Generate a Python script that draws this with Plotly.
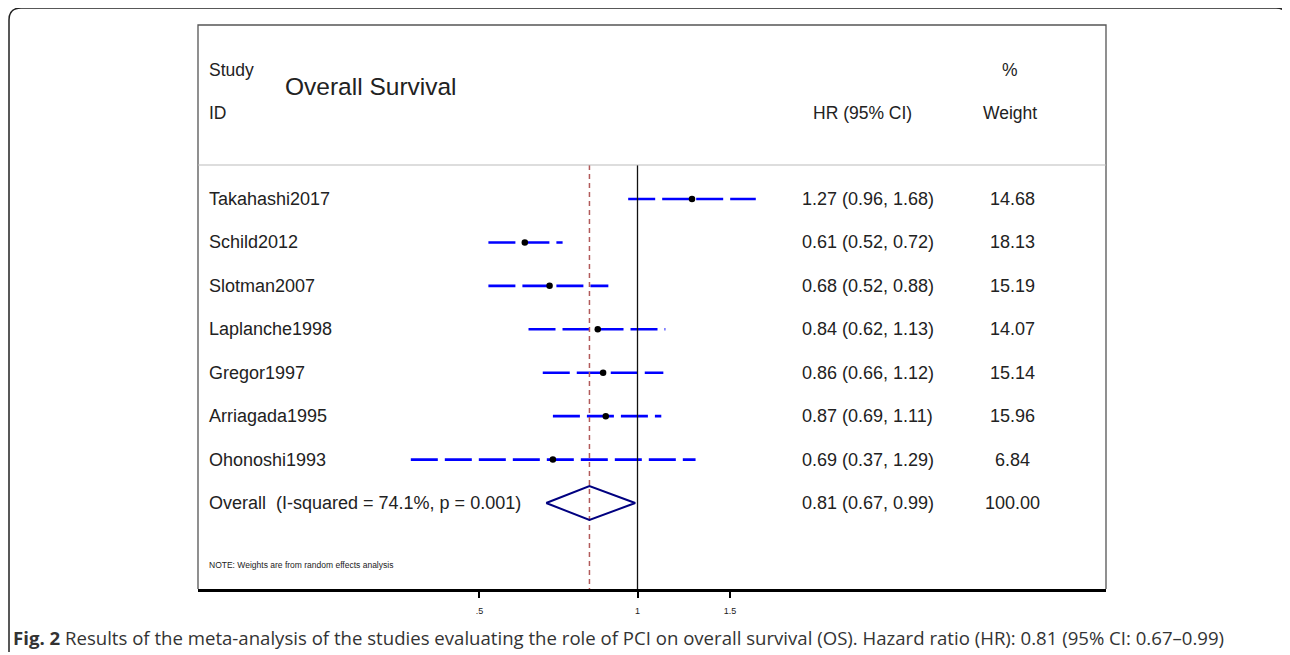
import plotly.graph_objects as go

# ---- data ----
studies = ["Takahashi2017", "Schild2012", "Slotman2007", "Laplanche1998",
           "Gregor1997", "Arriagada1995", "Ohonoshi1993"]
hr = [1.27, 0.61, 0.68, 0.84, 0.86, 0.87, 0.69]
ci_low = [0.96, 0.52, 0.52, 0.62, 0.66, 0.69, 0.37]
ci_high = [1.68, 0.72, 0.88, 1.13, 1.12, 1.11, 1.29]
weights = [14.68, 18.13, 15.19, 14.07, 15.14, 15.96, 6.84]
overall_label = "Overall\u00a0\u00a0(I-squared = 74.1%, p = 0.001)"
overall_hr, overall_low, overall_high, overall_weight = 0.81, 0.67, 0.99, 100.00
tick_vals = [0.5, 1, 1.5]
tick_text = [".5", "1", "1.5"]

# ---- layout geometry (screen pixels; the page body has an 8px margin) ----
OFF = 8
W, H = 1290 - OFF, 655 - OFF
L, R, T, B = 198, 1106, 25, 589
PW, PH = R - L, B - T
ROW0, PITCH = 199, 43.43


def px_x(px):
    return (px - L) / PW


def px_y(py):
    return (B - py) / PH


def row_of(py):
    return (py - ROW0) / PITCH


y_top, y_bot = row_of(T), row_of(B)
y_head = row_of(165)
n = len(studies)
ov_row = n

fig = go.Figure()

# CI lines
for i in range(n):
    fig.add_trace(go.Scatter(
        x=[ci_low[i], ci_high[i]], y=[i, i], mode="lines",
        line=dict(color="#0000FF", width=2.6, dash="27px,7px"),
        hoverinfo="skip", showlegend=False))

# null line
fig.add_trace(go.Scatter(x=[1, 1], y=[y_head, y_bot], mode="lines",
                         line=dict(color="#111111", width=1.3),
                         hoverinfo="skip", showlegend=False))
# overall dashed line
fig.add_trace(go.Scatter(x=[overall_hr, overall_hr], y=[y_head, y_bot], mode="lines",
                         line=dict(color="#B25A5A", width=1.5, dash="5px,4px"),
                         hoverinfo="skip", showlegend=False))

# point estimates
fig.add_trace(go.Scatter(x=hr, y=list(range(n)), mode="markers",
                         marker=dict(color="black", size=6.5, symbol="circle"),
                         hoverinfo="skip", showlegend=False))

# overall diamond
hh = 17 / PITCH
fig.add_trace(go.Scatter(
    x=[overall_low, overall_hr, overall_high, overall_hr, overall_low],
    y=[ov_row, ov_row - hh, ov_row, ov_row + hh, ov_row],
    mode="lines", line=dict(color="#000080", width=2),
    hoverinfo="skip", showlegend=False))

ann = []
font = dict(family="Liberation Sans, Arial, sans-serif", size=18, color="#222222")


def text(x_px, row, s, anchor="left", size=18):
    f = dict(font)
    f["size"] = size
    ann.append(dict(x=px_x(x_px), xref="paper", y=row, yref="y", text=s,
                    showarrow=False, xanchor=anchor, yanchor="middle", font=f))


# headers
text(207, row_of(70), "Study", size=17.5)
text(207, row_of(113), "ID", size=17.5)
text(283, row_of(86), "Overall Survival", size=24.5)
text(862, row_of(113), "HR (95% CI)", "center", 17.5)
text(1010, row_of(70), "%", "center", 17.5)
text(1010, row_of(113), "Weight", "center", 17.5)

for i in range(n):
    text(207, i, studies[i])
    text(800, i, f"{hr[i]:.2f} ({ci_low[i]:.2f}, {ci_high[i]:.2f})")
    text(1012, i, f"{weights[i]:.2f}", "center")

text(207, ov_row, overall_label)
text(800, ov_row, f"{overall_hr:.2f} ({overall_low:.2f}, {overall_high:.2f})")
text(1012, ov_row, f"{overall_weight:.2f}", "center")

text(207, row_of(565), "NOTE: Weights are from random effects analysis", size=8.5)

# caption
ann.append(dict(x=px_x(11), xref="paper", y=px_y(637), yref="paper",
                text="<b>Fig. 2</b> Results of the meta-analysis of the studies evaluating the role of PCI on overall survival (OS). Hazard ratio (HR): 0.81 (95% CI: 0.67\u20130.99)",
                showarrow=False, xanchor="left", yanchor="middle",
                font=dict(family="Open Sans, Noto Sans, sans-serif", size=18.6, color="#333333")))

shapes = []
# inner box left/top/right
shapes.append(dict(type="path", xref="paper", yref="paper",
                   path=f"M {px_x(L)},{px_y(B)} L {px_x(L)},{px_y(T)} L {px_x(R)},{px_y(T)} L {px_x(R)},{px_y(B)}",
                   line=dict(color="#555555", width=1.3)))
# header separator
shapes.append(dict(type="line", xref="paper", yref="paper",
                   x0=px_x(L), x1=px_x(R), y0=px_y(165), y1=px_y(165),
                   line=dict(color="#BBBBBB", width=1)))
# outer rounded frame (open at bottom/right)
ox0, oy0, ox1, ob = 9, 8, 1288, 652
r = 12
shapes.append(dict(type="path", xref="paper", yref="paper",
                   path=(f"M {px_x(ox0)},{px_y(ob)} L {px_x(ox0)},{px_y(oy0 + r)} "
                         f"Q {px_x(ox0)},{px_y(oy0)} {px_x(ox0 + r)},{px_y(oy0)} "
                         f"L {px_x(ox1 - r)},{px_y(oy0)} "
                         f"Q {px_x(ox1)},{px_y(oy0)} {px_x(ox1)},{px_y(oy0 + r)}"),
                   line=dict(color="#222222", width=1.5)))

lo = (L - 637.5) / 525.0
hi = (R - 637.5) / 525.0

fig.update_layout(
    width=W, height=H,
    margin=dict(l=L - OFF, r=(W + OFF) - R, t=T - OFF, b=(H + OFF) - B),
    paper_bgcolor="white", plot_bgcolor="white",
    showlegend=False,
    annotations=ann, shapes=shapes,
    xaxis=dict(type="log", range=[lo, hi], tickvals=tick_vals, ticktext=tick_text,
               showgrid=False, zeroline=False, showline=True, linecolor="black",
               linewidth=2.5, ticks="outside", ticklen=6, tickwidth=1.5, tickcolor="black",
               ticklabelstandoff=5,
               tickfont=dict(family="Liberation Sans, Arial, sans-serif", size=9, color="#222222")),
    yaxis=dict(range=[y_bot, y_top], showgrid=False, zeroline=False, showline=False,
               showticklabels=False, ticks=""),
)

fig.write_html("out.html")
